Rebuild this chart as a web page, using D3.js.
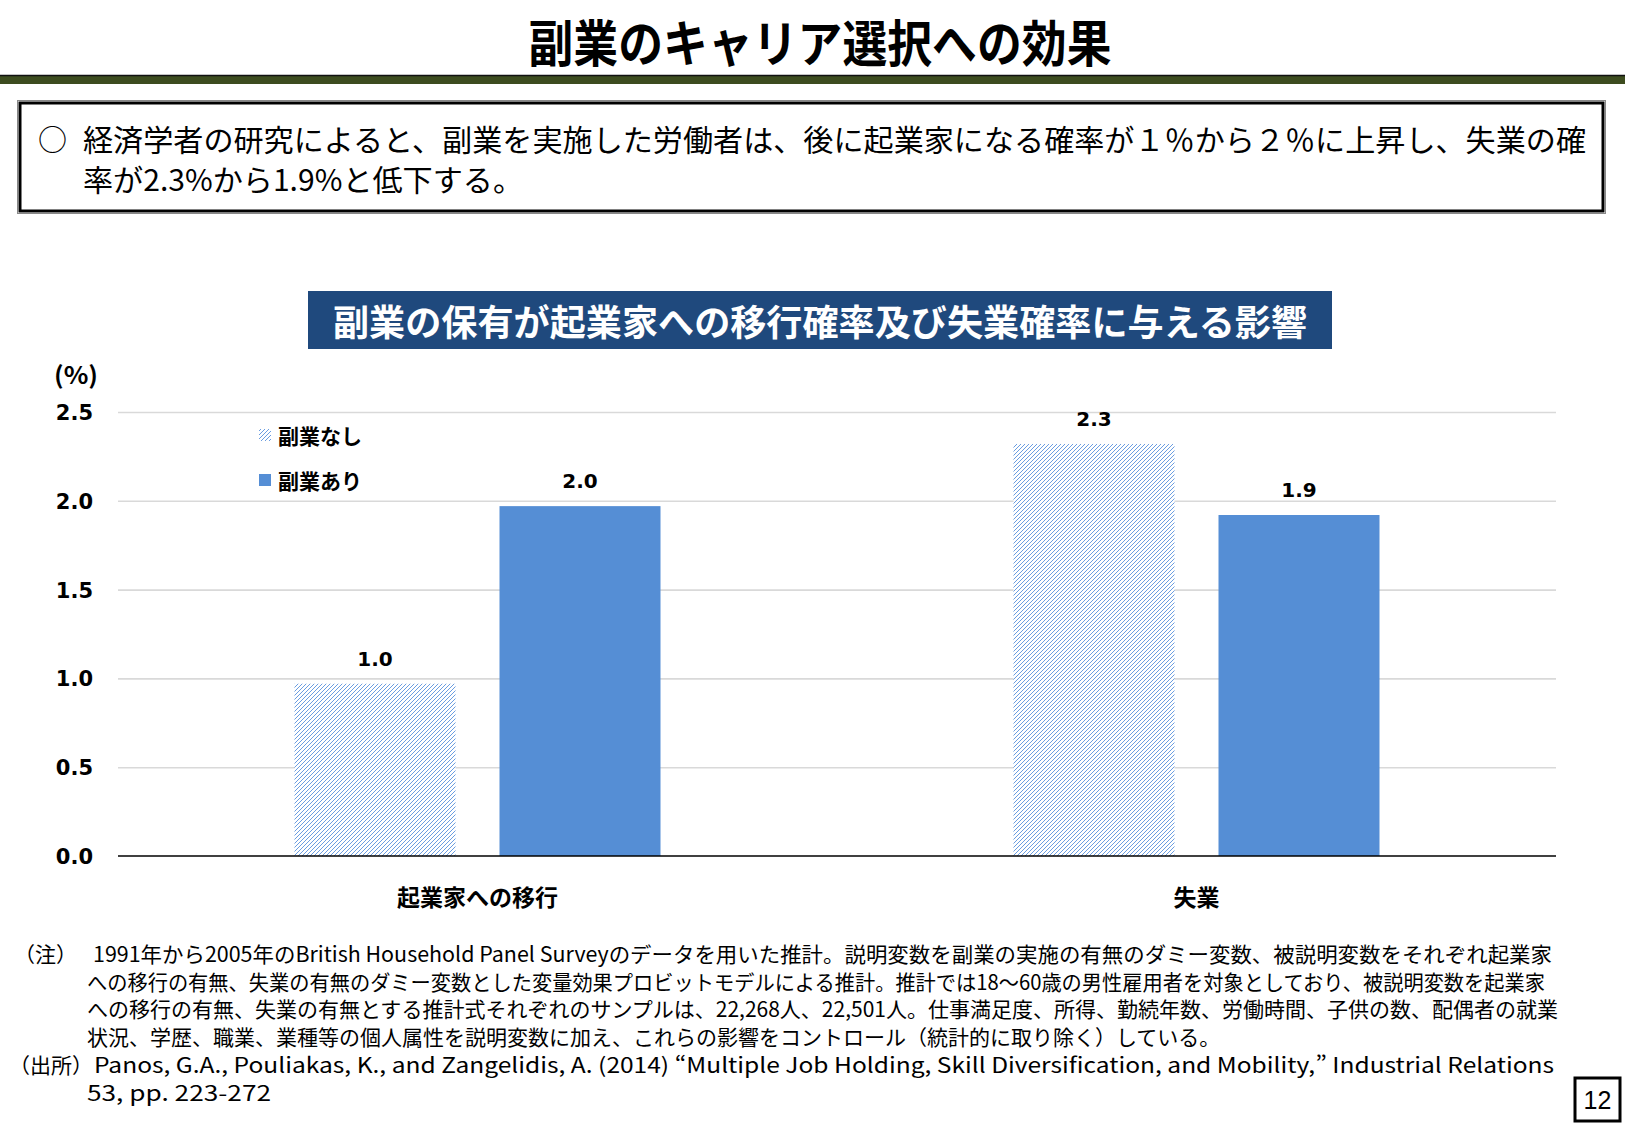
<!DOCTYPE html>
<html lang="ja">
<head>
<meta charset="utf-8">
<script src="https://cdn.jsdelivr.net/npm/d3@7"></script>
<style>
  html, body { margin: 0; padding: 0; background: #fff; }
  svg { display: block; }
</style>
</head>
<body>
<svg id="chart" width="1625" height="1125"></svg>
<script>
// ---------- data ----------
const categories = ["起業家への移行", "失業"];
const seriesNames = ["副業なし", "副業あり"];
const noSideJob = [0.97, 2.32];
const withSideJob = [1.97, 1.92];
const yTicks = [0, 0.5, 1.0, 1.5, 2.0, 2.5];

const pageTitle = "副業のキャリア選択への効果";
const summaryLine1 = "経済学者の研究によると、副業を実施した労働者は、後に起業家になる確率が１％から２％に上昇し、失業の確";
const summaryLine2 = "率が2.3%から1.9%と低下する。";
const chartTitle = "副業の保有が起業家への移行確率及び失業確率に与える影響";
const noteLines = [
  "1991年から2005年のBritish Household Panel Surveyのデータを用いた推計。説明変数を副業の実施の有無のダミー変数、被説明変数をそれぞれ起業家",
  "への移行の有無、失業の有無のダミー変数とした変量効果プロビットモデルによる推計。推計では18～60歳の男性雇用者を対象としており、被説明変数を起業家",
  "への移行の有無、失業の有無とする推計式それぞれのサンプルは、22,268人、22,501人。仕事満足度、所得、勤続年数、労働時間、子供の数、配偶者の就業",
  "状況、学歴、職業、業種等の個人属性を説明変数に加え、これらの影響をコントロール（統計的に取り除く）している。"
];
const sourceLines = [
  "Panos, G.A., Pouliakas, K., and Zangelidis, A. (2014) “Multiple Job Holding, Skill Diversification, and Mobility,” Industrial Relations",
  "53, pp. 223-272"
];
const pageNumber = "12";

// ---------- setup ----------
const JP = "'Noto Sans CJK JP', 'Noto Sans', sans-serif";
const NUM = "'DejaVu Sans', Verdana, sans-serif";
const BLUE = "#558ed5";
const svg = d3.select("#chart");

const defs = svg.append("defs");
const pat = defs.append("pattern")
  .attr("id", "hatch").attr("patternUnits", "userSpaceOnUse")
  .attr("width", 4).attr("height", 4);
pat.append("rect").attr("width", 4).attr("height", 4).attr("fill", "#fff");
pat.append("path")
  .attr("d", "M-1,1 l2,-2 M0,4 l4,-4 M3,5 l2,-2")
  .attr("stroke", "#6b9de0").attr("stroke-width", 1.0);

// ---------- page header ----------
svg.append("text")
  .attr("x", 820).attr("y", 40)
  .attr("text-anchor", "middle").attr("dominant-baseline", "central")
  .attr("font-family", JP).attr("font-weight", 700).attr("font-size", 50)
  .attr("textLength", 583).attr("lengthAdjust", "spacingAndGlyphs")
  .attr("fill", "#000").text(pageTitle);

svg.append("rect").attr("x", 0).attr("y", 75).attr("width", 1625).attr("height", 9)
  .attr("fill", "#3d4c1f");
svg.append("line").attr("x1", 0).attr("x2", 1625).attr("y1", 75.5).attr("y2", 75.5)
  .attr("stroke", "#111").attr("stroke-width", 1.5);

// summary box
svg.append("rect").attr("x", 17.5).attr("y", 100.5).attr("width", 1588).attr("height", 113)
  .attr("fill", "none").attr("stroke", "#888").attr("stroke-width", 1);
svg.append("rect").attr("x", 20).attr("y", 103).attr("width", 1583).attr("height", 108)
  .attr("fill", "#fff").attr("stroke", "#000").attr("stroke-width", 3);

svg.append("text").attr("x", 38).attr("y", 138)
  .attr("dominant-baseline", "central")
  .attr("font-family", JP).attr("font-size", 29).text("○");
svg.append("text").attr("x", 83).attr("y", 138)
  .attr("dominant-baseline", "central")
  .attr("font-family", JP).attr("font-size", 30)
  .attr("textLength", 1503).attr("lengthAdjust", "spacingAndGlyphs")
  .text(summaryLine1);
svg.append("text").attr("x", 83).attr("y", 178)
  .attr("dominant-baseline", "central")
  .attr("font-family", JP).attr("font-size", 30)
  .attr("textLength", 440).attr("lengthAdjust", "spacingAndGlyphs")
  .text(summaryLine2);

// chart title bar
svg.append("rect").attr("x", 308).attr("y", 291).attr("width", 1024).attr("height", 58)
  .attr("fill", "#1f497d");
svg.append("text").attr("x", 820).attr("y", 320)
  .attr("text-anchor", "middle").attr("dominant-baseline", "central")
  .attr("font-family", JP).attr("font-weight", 700).attr("font-size", 36)
  .attr("textLength", 974).attr("lengthAdjust", "spacingAndGlyphs")
  .attr("fill", "#fff").text(chartTitle);

// ---------- chart ----------
const plotLeft = 118, plotRight = 1556, plotTop = 412, plotBottom = 856;

const y = d3.scaleLinear().domain([0, 2.5]).range([plotBottom, plotTop]);
const x0 = d3.scaleBand().domain(categories).range([plotLeft, plotRight]).padding(0);
const x1 = d3.scaleBand().domain(seriesNames).range([0, x0.bandwidth()])
  .paddingInner(0.2146).paddingOuter(0.861);

// y axis with gridlines
const yAxis = d3.axisLeft(y).tickValues(yTicks).tickFormat(d3.format(".1f"))
  .tickSizeInner(-(plotRight - plotLeft)).tickSizeOuter(0).tickPadding(25);
const gy = svg.append("g").attr("transform", `translate(${plotLeft},0)`).call(yAxis);
gy.select(".domain").remove();
gy.selectAll(".tick line")
  .attr("stroke", d => d === 0 ? "none" : "#d9d9d9")
  .attr("stroke-width", 1.6);
gy.selectAll(".tick text")
  .attr("font-family", NUM).attr("font-weight", 700).attr("font-size", 21)
  .attr("fill", "#000").attr("dy", "0.36em");

// unit label
svg.append("text").attr("x", 54).attr("y", 373)
  .attr("dominant-baseline", "central")
  .attr("font-family", JP).attr("font-weight", 700).attr("font-size", 24)
  .attr("textLength", 44).attr("lengthAdjust", "spacingAndGlyphs")
  .text("(%)");

// bars
const rows = categories.map((c, i) => ({
  category: c,
  values: [
    { series: seriesNames[0], value: noSideJob[i] },
    { series: seriesNames[1], value: withSideJob[i] }
  ]
}));
const fills = { [seriesNames[0]]: "url(#hatch)", [seriesNames[1]]: BLUE };

const groups = svg.append("g").selectAll("g").data(rows).join("g")
  .attr("transform", d => `translate(${x0(d.category)},0)`);
groups.selectAll("rect").data(d => d.values).join("rect")
  .attr("x", d => x1(d.series))
  .attr("y", d => y(d.value))
  .attr("width", x1.bandwidth())
  .attr("height", d => y(0) - y(d.value))
  .attr("fill", d => fills[d.series]);
groups.selectAll("text.lbl").data(d => d.values).join("text")
  .attr("class", "lbl")
  .attr("x", d => x1(d.series) + x1.bandwidth() / 2)
  .attr("y", d => y(d.value) - 18)
  .attr("text-anchor", "middle")
  .attr("font-family", NUM).attr("font-weight", 700).attr("font-size", 20)
  .text(d => d3.format(".1f")(d.value));

// baseline
svg.append("line").attr("x1", plotLeft).attr("x2", plotRight)
  .attr("y1", y(0)).attr("y2", y(0))
  .attr("stroke", "#000").attr("stroke-width", 1.4);

// x axis labels
const xAxis = d3.axisBottom(x0).tickSize(0);
const gx = svg.append("g").attr("transform", `translate(0,${plotBottom})`).call(xAxis);
gx.select(".domain").remove();
gx.selectAll(".tick text")
  .attr("y", 40).attr("dy", null)
  .attr("dominant-baseline", "central")
  .attr("font-family", JP).attr("font-weight", 700).attr("font-size", 23)
  .attr("fill", "#000");

// legend
const legendY = [435, 480];
const lg = svg.append("g").selectAll("g").data(seriesNames).join("g")
  .attr("transform", (d, i) => `translate(259,${legendY[i]})`);
lg.append("rect").attr("x", 0).attr("y", -6).attr("width", 12).attr("height", 12)
  .attr("fill", d => fills[d]);
lg.append("text").attr("x", 19).attr("y", 0)
  .attr("dominant-baseline", "central")
  .attr("font-family", JP).attr("font-weight", 700).attr("font-size", 21)
  .text(d => d);

// ---------- notes ----------
const noteY = [953, 980.5, 1008, 1036];
const noteX = [93, 87, 87, 87];
const noteLen = [1459, 1458, 1471, null];
svg.append("text").attr("x", 14).attr("y", noteY[0])
  .attr("dominant-baseline", "central")
  .attr("font-family", JP).attr("font-size", 21).text("（注）");
noteLines.forEach((t, i) => {
  const el = svg.append("text").attr("x", noteX[i]).attr("y", noteY[i])
    .attr("dominant-baseline", "central")
    .attr("font-family", JP).attr("font-size", 21).text(t);
  if (noteLen[i]) el.attr("textLength", noteLen[i]).attr("lengthAdjust", "spacingAndGlyphs");
});
svg.append("text").attr("x", 9).attr("y", 1064)
  .attr("dominant-baseline", "central")
  .attr("font-family", JP).attr("font-size", 21).text("（出所）");
svg.append("text").attr("x", 94).attr("y", 1064)
  .attr("dominant-baseline", "central")
  .attr("font-family", JP).attr("font-size", 21)
  .attr("textLength", 1460).attr("lengthAdjust", "spacingAndGlyphs")
  .text(sourceLines[0]);
svg.append("text").attr("x", 87).attr("y", 1091.5)
  .attr("dominant-baseline", "central")
  .attr("font-family", JP).attr("font-size", 21)
  .attr("textLength", 184).attr("lengthAdjust", "spacingAndGlyphs")
  .text(sourceLines[1]);

// page number
svg.append("rect").attr("x", 1575).attr("y", 1078).attr("width", 45).attr("height", 43)
  .attr("fill", "#fff").attr("stroke", "#000").attr("stroke-width", 3);
svg.append("text").attr("x", 1597.5).attr("y", 1100)
  .attr("text-anchor", "middle").attr("dominant-baseline", "central")
  .attr("font-family", "'Liberation Sans', Arial, sans-serif").attr("font-size", 25)
  .text(pageNumber);
</script>
</body>
</html>
